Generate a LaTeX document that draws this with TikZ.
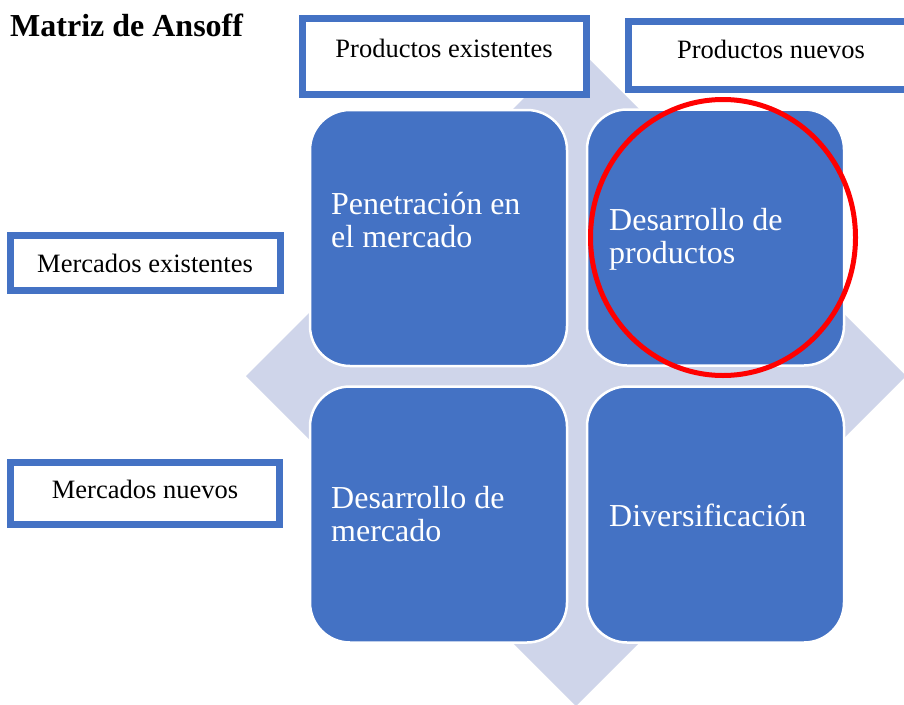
\documentclass[tikz,border=0pt]{standalone}
\usepackage{fontspec}
\setmainfont{Liberation Serif}
\definecolor{obblue}{HTML}{4472C4}
\definecolor{oblight}{HTML}{CFD5EA}
\definecolor{obred}{HTML}{FF0000}
\begin{document}
\begin{tikzpicture}[x=1pt,y=-1pt,
  quad/.style={fill=obblue, draw=white, line width=2.5pt, rounded corners=40pt,
    minimum width=257pt, minimum height=256pt, inner sep=0pt},
  qtext/.style={text=white, anchor=base west, inner sep=0pt,
    font=\fontsize{32}{33}\selectfont},
  lbox/.style={draw=obblue, line width=7pt, fill=white, inner sep=0pt},
  ltext/.style={anchor=base, inner sep=0pt, font=\fontsize{26.5}{30}\selectfont},
]
\useasboundingbox (0,0) rectangle (904,704);
\fill[white] (0,0) rectangle (904,704);

% background diamond
\fill[oblight] (576,46) -- (906,376) -- (576,706) -- (246,376) -- cycle;

% quadrants
\node[quad] (tl) at (438.5,238) {};
\node[quad] (tr) at (715.5,237.5) {};
\node[quad] (bl) at (438.5,514.5) {};
\node[quad] (br) at (715.5,514.5) {};

\node[qtext] (tltxt) at (331,214) {\begin{tabular}[t]{@{}l@{}}Penetración en\\el mercado\end{tabular}};
\node[qtext] (trtxt) at (609,230) {\begin{tabular}[t]{@{}l@{}}Desarrollo de\\productos\end{tabular}};
\node[qtext] (bltxt) at (331,508) {\begin{tabular}[t]{@{}l@{}}Desarrollo de\\mercado\end{tabular}};
\node[qtext] (brtxt) at (609,526) {Diversificación};

% label boxes
\node[lbox, minimum width=284pt, minimum height=76pt] (pe) at (444.5,56.5) {};
\node[lbox, minimum width=283.5pt, minimum height=68pt] (pn) at (770.25,55.5) {};
\node[lbox, minimum width=270pt, minimum height=55pt] (me) at (145.5,263) {};
\node[lbox, minimum width=269pt, minimum height=62pt] (mn) at (145,493.5) {};

\node[ltext] (petxt) at (444,57) {Productos existentes};
\node[ltext] (pntxt) at (771,58) {Productos nuevos};
\node[ltext] (metxt) at (145,272) {Mercados existentes};
\node[ltext] (mntxt) at (145,498) {Mercados nuevos};

% red highlight
\draw[obred, line width=5pt] (723,237.5) ellipse [x radius=132.5pt, y radius=138pt];

% title
\node[anchor=base west, inner sep=0pt, font=\bfseries\fontsize{32}{36}\selectfont] (title) at (10,36) {Matriz de Ansoff};
\end{tikzpicture}
\end{document}
